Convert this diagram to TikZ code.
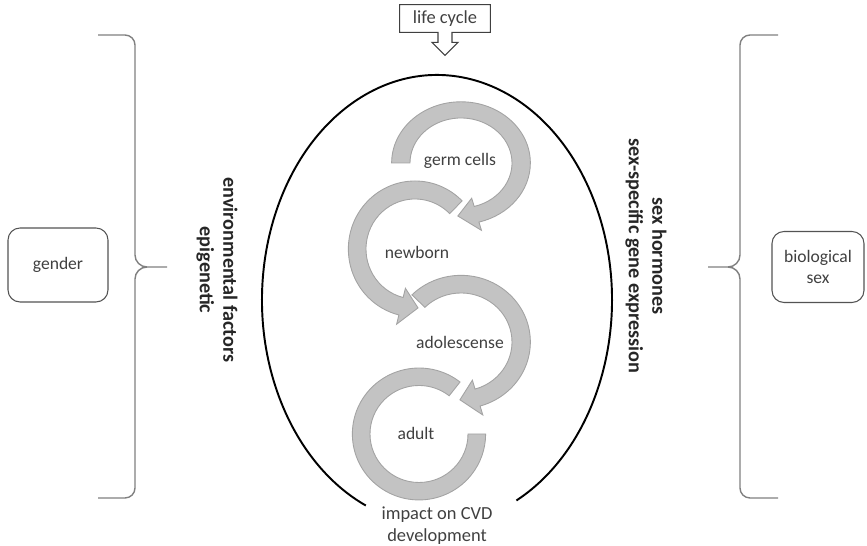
\documentclass[tikz,border=0pt]{standalone}
\usepackage{fontspec}
\setmainfont{Carlito}
\usepackage{tikz}
\usetikzlibrary{calc}
\definecolor{txtgray}{HTML}{404040}
\definecolor{cycfill}{HTML}{C3C3C3}
\definecolor{cycline}{HTML}{A3A3A3}
\definecolor{bracegray}{HTML}{808080}
\newcommand{\cyclearrow}[5]{%
\begin{scope}[shift={#1}, #2]
\filldraw[cyc] (#3:68) arc[start angle=#3, end angle=#4, radius=68] -- (#4:77.5) -- (#5:59) -- (#4:40.5) -- (#4:50) arc[start angle=#4, end angle=#3, radius=50] -- cycle;
\end{scope}}

\begin{document}
\begin{tikzpicture}[x=0.02cm, y=0.02cm,
  every node/.style={text=txtgray, font=\fontsize{10}{12}\selectfont},
  cyc/.style={fill=cycfill, draw=cycline, line width=0.5pt},
  sidebox/.style={draw=txtgray!90, line width=0.6pt, rounded corners=0.24cm, align=center},
  brc/.style={draw=bracegray, line width=0.8pt},
  sidetext/.style={rotate=-90, align=center, text=black!85, font=\fontsize{11.5}{13.5}\selectfont\bfseries}]
\useasboundingbox (0,0) rectangle (867,546);
\draw[line width=1.1pt] ($(437,246)+(297:175 and 225)$) arc[start angle=297, end angle=606, x radius=175, y radius=225];
\node (impact) at (437,20) [align=center, font=\fontsize{10.5}{12.5}\selectfont] {impact on CVD\\development};
\node (life) at (445,527.5) [minimum width=1.8cm, minimum height=0.54cm, inner sep=0pt, font=\fontsize{10.5}{12}\selectfont] {life cycle};
\draw[draw=txtgray, line width=0.6pt] (life.north west) -- (life.north east) -- (life.south east) -- ($(life.south)+(7,0)$) -- ++(0,-10) -- ++(6,0) -- ($(life.south)+(0,-23)$) -- ($(life.south)+(-13,-10)$) -- ++(6,0) -- ($(life.south)+(-7,0)$) -- (life.south west) -- cycle;
\cyclearrow{(461,383)}{xscale=1.02, yscale=0.9}{180}{-75}{-93}
\cyclearrow{(415,297)}{xscale=0.98}{45}{256}{273}
\cyclearrow{(461,204)}{xscale=1.02, yscale=0.98}{135}{-74}{-91}
\begin{scope}[shift={(419,112)}, xscale=0.98, yscale=0.97]
\filldraw[cyc] (52:68) arc[start angle=52, end angle=360, radius=68] -- (0:50) arc[start angle=360, end angle=52, radius=50] -- cycle;
\end{scope}
\node (germ) at (460,385) {germ cells};
\node (newborn) at (417,294) {newborn};
\node (adol) at (460,204) {adolescense};
\node (adult) at (416,113) {adult};
\node (gender) at (58,281) [sidebox, minimum width=2cm, minimum height=1.48cm] {gender};
\node (bio) at (818,279) [sidebox, minimum width=1.84cm, minimum height=1.42cm] {biological\\sex};
\node (env) at (217,276) [sidetext] {environmental factors\\epigenetic};
\node (sexh) at (646,290) [sidetext] {sex hormones\\sex-specific gene expression};
\draw[brc] (98,511) -- (125,511) arc[start angle=90, end angle=0, radius=10] -- (135,291) arc[start angle=180, end angle=270, radius=12] -- (167,279);
\draw[brc] (98,48) -- (125,48) arc[start angle=-90, end angle=0, radius=10] -- (135,267) arc[start angle=180, end angle=90, radius=12];
\draw[brc] (778,511) -- (750,511) arc[start angle=90, end angle=180, radius=10] -- (740,291) arc[start angle=0, end angle=-90, radius=12] -- (708,279);
\draw[brc] (778,48) -- (750,48) arc[start angle=-90, end angle=-180, radius=10] -- (740,267) arc[start angle=0, end angle=90, radius=12];
\end{tikzpicture}
\end{document}
